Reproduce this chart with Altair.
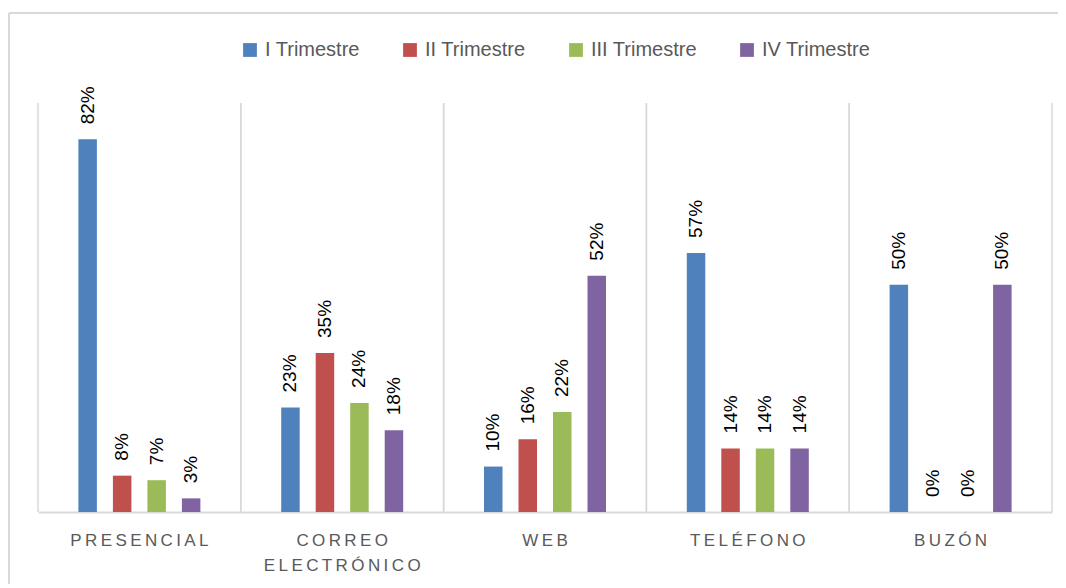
import altair as alt
import pandas as pd

categories = ["Presencial", "Correo electrónico", "Web", "Teléfono", "Buzón"]
series = ["I Trimestre", "II Trimestre", "III Trimestre", "IV Trimestre"]
t1 = [82, 23, 10, 57, 50]
t2 = [8, 35, 16, 14, 0]
t3 = [7, 24, 22, 14, 0]
t4 = [3, 18, 52, 14, 50]
colors = ["#4F81BD", "#C0504D", "#9BBB59", "#8064A2"]

rows = []
for s, vals in zip(series, [t1, t2, t3, t4]):
    for c, v in zip(categories, vals):
        rows.append({"canal": c, "trimestre": s, "valor": v})
df = pd.DataFrame(rows)
cat_df = pd.DataFrame({"canal": categories})

W, H = 1014, 409
GRID = "#D9D9D9"
FONT = "Liberation Sans"
THIN = "\u2009"

label_expr = (
    "split(replace(upper(datum.label), regexp('(\\\\S)(?=\\\\S)', 'g'), '$1"
    + THIN
    + "'), ' ')"
)

x_axis = alt.Axis(
    title=None,
    labelAngle=0,
    labelExpr=label_expr,
    labelFont=FONT,
    labelFontSize=17,
    labelColor="#595959",
    labelPadding=20,
    labelLineHeight=25,
    labelLimit=400,
    ticks=False,
    tickSize=0,
    grid=False,
    domainColor=GRID,
    domainWidth=2,
)
x_scale = alt.Scale(paddingInner=0, paddingOuter=0)


def make_x(**kw):
    return alt.X("canal:N", sort=categories, scale=x_scale, axis=x_axis, **kw)


xoff = alt.XOffset(
    "trimestre:N", sort=series,
    scale=alt.Scale(paddingInner=0, paddingOuter=0.939),
)
y_enc = alt.Y("valor:Q", scale=alt.Scale(domain=[0, 90]), axis=None)

grid_l = alt.Chart(cat_df).mark_rule(color=GRID, strokeWidth=1.5).encode(
    x=make_x(bandPosition=0)
)
grid_r = alt.Chart(cat_df).mark_rule(color=GRID, strokeWidth=1.5).encode(
    x=make_x(bandPosition=1)
)

bars = alt.Chart(df).mark_bar(width=18.5).encode(
    x=make_x(),
    xOffset=xoff,
    y=y_enc,
    color=alt.Color(
        "trimestre:N",
        sort=series,
        scale=alt.Scale(domain=series, range=colors),
        legend=alt.Legend(
            title=None,
            orient="none",
            legendX=202,
            legendY=-63,
            direction="horizontal",
            columns=4,
            symbolType="square",
            symbolSize=190,
            symbolStrokeWidth=0,
            labelFont=FONT,
            labelFontSize=20,
            labelColor="#595959",
            columnPadding=40,
            labelOffset=5,
            padding=0,
        ),
    ),
)

labels = (
    alt.Chart(df)
    .transform_calculate(txt="datum.valor + '%'")
    .mark_text(angle=270, align="left", baseline="middle", dx=15,
               fontSize=19, font=FONT, color="black")
    .encode(x=make_x(), xOffset=xoff, y=y_enc, text="txt:N")
)

frame_top = alt.Chart(cat_df.head(1)).mark_rule(color=GRID, strokeWidth=2).encode(
    x=alt.value(-29), x2=alt.value(W + 60), y=alt.value(-90), y2=alt.value(-90)
)
frame_left = alt.Chart(cat_df.head(1)).mark_rule(color=GRID, strokeWidth=2).encode(
    x=alt.value(-29), x2=alt.value(-29), y=alt.value(-90), y2=alt.value(H + 120)
)

chart = (
    alt.layer(frame_top, frame_left, grid_l, grid_r, bars, labels)
    .properties(
        width=W,
        height=H,
        padding={"left": 30, "top": 95, "right": 6, "bottom": 72},
        autosize=alt.AutoSizeParams(type="none"),
        background="white",
    )
    .configure_view(stroke=None)
)

chart.save("out.html", embed_options={"renderer": "svg", "actions": False})
